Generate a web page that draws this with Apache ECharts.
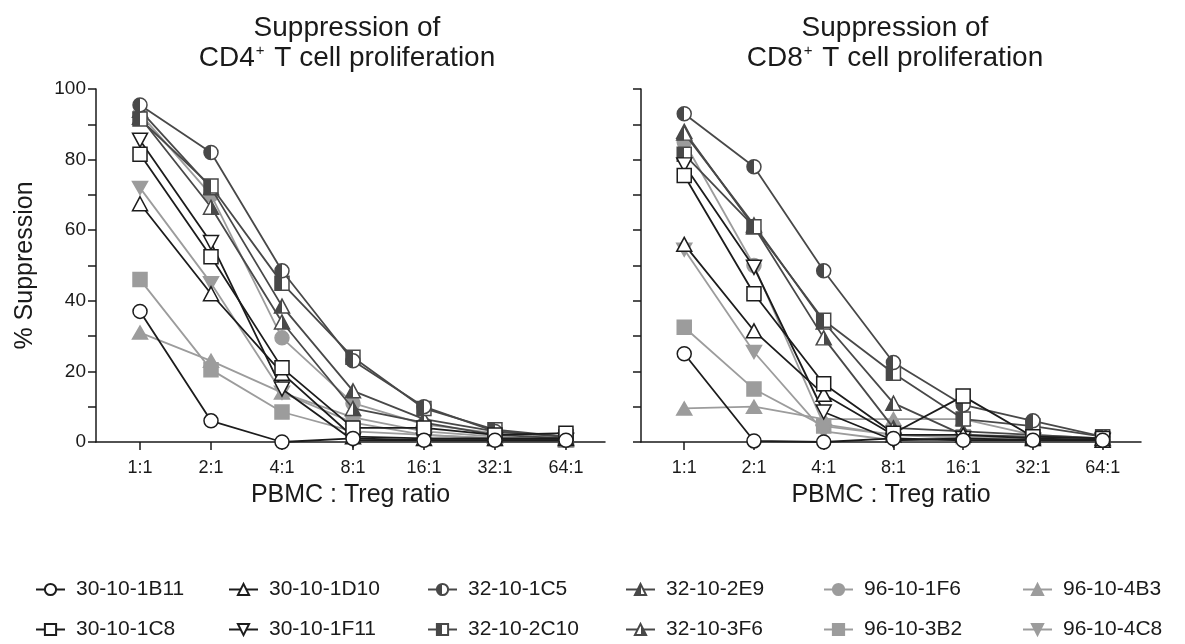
<!DOCTYPE html>
<html>
<head>
<meta charset="utf-8">
<script src="https://cdn.jsdelivr.net/npm/echarts@6/dist/echarts.min.js"></script>
<style>
  html, body { margin: 0; padding: 0; background: #fff; }
  #chart { width: 1185px; height: 644px; }
</style>
</head>
<body>
<div id="chart"></div>
<script>
// PBMC : Treg ratios on the x axis
const ratioLabels = ['1:1', '2:1', '4:1', '8:1', '16:1', '32:1', '64:1'];
const yTicks = [0, 20, 40, 60, 80, 100];

// % suppression of CD4+ T cell proliferation, one array per clone
const cd4_30_10_1B11 = [37, 6, 0, 1, 0.5, 0.5, 0.5];
const cd4_30_10_1C8  = [81.5, 52.5, 21, 4, 4, 2, 2.5];
const cd4_30_10_1D10 = [67.5, 42, 19.5, 1.5, 1, 1, 1];
const cd4_30_10_1F11 = [85.5, 56.5, 15, 0.5, 0.5, 0.5, 0.5];
const cd4_32_10_1C5  = [95.5, 82, 48.5, 23, 10, 3, 1.5];
const cd4_32_10_2C10 = [91.5, 72.5, 45, 24, 9.5, 3.5, 1.5];
const cd4_32_10_2E9  = [94, 72, 38.5, 14.5, 6.5, 3, 1.5];
const cd4_32_10_3F6  = [92, 66.5, 34, 9.5, 5.5, 2, 1];
const cd4_96_10_1F6  = [93, 70, 29.5, 11, 5, 2.5, 1];
const cd4_96_10_3B2  = [46, 20.5, 8.5, 3, 2, 1, 0.5];
const cd4_96_10_4B3  = [31, 23, 14, 7, 3, 1.5, 0.5];
const cd4_96_10_4C8  = [72, 45, 14, 5.5, 2, 1, 0.5];

// % suppression of CD8+ T cell proliferation, one array per clone
const cd8_30_10_1B11 = [25, 0.3, 0, 1, 0.5, 0.5, 0.5];
const cd8_30_10_1C8  = [75.5, 42, 16.5, 2.5, 13, 1.5, 1];
const cd8_30_10_1D10 = [56, 31.5, 13.5, 2, 2, 1, 0.5];
const cd8_30_10_1F11 = [78.5, 49.5, 8.5, 0.5, 1, 0.5, 0.5];
const cd8_32_10_1C5  = [93, 78, 48.5, 22.5, 10.5, 6, 1.5];
const cd8_32_10_2C10 = [81.5, 61, 34.5, 19.5, 6.5, 4.5, 1.5];
const cd8_32_10_2E9  = [87.5, 61.5, 34, 11, 2, 1.5, 1];
const cd8_32_10_3F6  = [88, 61, 29.5, 4, 3, 2, 1];
const cd8_96_10_1F6  = [85, 50, 5, 2, 1, 1, 1];
const cd8_96_10_3B2  = [32.5, 15, 4.5, 2, 1.5, 1, 1];
const cd8_96_10_4B3  = [9.5, 10, 6.5, 6.5, 6.5, 2, 1];
const cd8_96_10_4C8  = [54.5, 25.5, 3, 0.5, 0.5, 0.5, 0.5];

const clones = ['30-10-1B11', '30-10-1C8', '30-10-1D10', '30-10-1F11',
                '32-10-1C5', '32-10-2C10', '32-10-2E9', '32-10-3F6',
                '96-10-1F6', '96-10-3B2', '96-10-4B3', '96-10-4C8'];
const cd4Values = [cd4_30_10_1B11, cd4_30_10_1C8, cd4_30_10_1D10, cd4_30_10_1F11,
                   cd4_32_10_1C5, cd4_32_10_2C10, cd4_32_10_2E9, cd4_32_10_3F6,
                   cd4_96_10_1F6, cd4_96_10_3B2, cd4_96_10_4B3, cd4_96_10_4C8];
const cd8Values = [cd8_30_10_1B11, cd8_30_10_1C8, cd8_30_10_1D10, cd8_30_10_1F11,
                   cd8_32_10_1C5, cd8_32_10_2C10, cd8_32_10_2E9, cd8_32_10_3F6,
                   cd8_96_10_1F6, cd8_96_10_3B2, cd8_96_10_4B3, cd8_96_10_4C8];

const FONT = '"Liberation Sans", Arial, sans-serif';
const INK = '#1a1a1a';
const BLACK = '#1c1c1c';
const DARK = '#484848';
const LIGHT = '#9c9c9c';
const DOWN = 'path://M0,0 L10,0 L5,9 Z';
const UP = 'path://M5,0 L10,9 L0,9 Z';

function half(dir) {
  // two-tone fill: dark on one side, white on the other
  const a = dir === 'left' ? DARK : '#ffffff';
  const b = dir === 'left' ? '#ffffff' : DARK;
  return {
    type: 'linear', x: 0, y: 0, x2: 1, y2: 0,
    colorStops: [
      { offset: 0, color: a }, { offset: 0.5, color: a },
      { offset: 0.5, color: b }, { offset: 1, color: b }
    ]
  };
}

// marker look for each clone (same order as clones)
const looks = [
  { symbol: 'circle', size: 14, line: BLACK, fill: '#ffffff', border: BLACK },
  { symbol: 'rect',   size: 14, line: BLACK, fill: '#ffffff', border: BLACK },
  { symbol: UP,       size: [15, 14], line: BLACK, fill: '#ffffff', border: BLACK },
  { symbol: DOWN,     size: [15, 14], line: BLACK, fill: '#ffffff', border: BLACK },
  { symbol: 'circle', size: 14, line: DARK, fill: half('left'), border: DARK },
  { symbol: 'rect',   size: 14, line: DARK, fill: half('left'), border: DARK },
  { symbol: UP,       size: [15, 14], line: DARK, fill: half('left'), border: DARK },
  { symbol: UP,       size: [15, 14], line: DARK, fill: half('right'), border: DARK },
  { symbol: 'circle', size: 14, line: LIGHT, fill: LIGHT, border: LIGHT },
  { symbol: 'rect',   size: 14, line: LIGHT, fill: LIGHT, border: LIGHT },
  { symbol: UP,       size: [15, 13], line: LIGHT, fill: LIGHT, border: LIGHT },
  { symbol: DOWN,     size: [15, 13], line: LIGHT, fill: LIGHT, border: LIGHT }
];

function buildSeries(values, axisIdx) {
  return clones.map((name, k) => {
    const lk = looks[k];
    return {
      type: 'line',
      name: name,
      xAxisIndex: axisIdx,
      yAxisIndex: axisIdx,
      data: values[k].map((v, i) => [i, v]),
      symbol: lk.symbol,
      symbolSize: lk.size,
      showAllSymbol: true,
      lineStyle: { color: lk.line, width: 1.8 },
      itemStyle: { color: lk.fill, borderColor: lk.border, borderWidth: 1.5 },
      emphasis: { disabled: true },
      z: 2 + (11 - k) * 0.01
    };
  });
}

const axisLineStyle = { color: INK, width: 1.5 };
const axisTick = { show: true, inside: false, length: 8, lineStyle: { color: INK, width: 1.5 } };
const idx = ratioLabels.map((_, i) => i);

function xAxis(gridIndex) {
  return {
    type: 'value', gridIndex: gridIndex,
    min: -0.62, max: 6.55,
    axisLine: { show: true, onZero: false, lineStyle: axisLineStyle },
    axisTick: Object.assign({ customValues: idx }, axisTick),
    axisLabel: {
      customValues: idx,
      formatter: v => ratioLabels[Math.round(v)],
      fontSize: 18, color: INK, fontFamily: FONT, margin: 17
    },
    splitLine: { show: false },
    name: 'PBMC : Treg ratio',
    nameLocation: 'middle', nameGap: 41,
    nameTextStyle: { fontSize: 25, color: INK, fontFamily: FONT }
  };
}

function yAxis(gridIndex, withLabels) {
  return {
    type: 'value', gridIndex: gridIndex,
    min: 0, max: 100, interval: 10,
    axisLine: { show: true, onZero: false, lineStyle: axisLineStyle },
    axisTick: axisTick,
    axisLabel: {
      show: withLabels,
      formatter: v => (yTicks.indexOf(v) >= 0 ? String(v) : ''),
      fontSize: 19, color: INK, fontFamily: FONT, margin: 10
    },
    splitLine: { show: false },
    name: withLabels ? '% Suppression' : '',
    nameLocation: 'middle', nameGap: 58, nameRotate: 90,
    nameTextStyle: { fontSize: 25, color: INK, fontFamily: FONT }
  };
}

const titleStyle = {
  fontSize: 28, fontWeight: 'normal', color: INK, fontFamily: FONT, lineHeight: 30,
  rich: { sup: { fontSize: 15, fontFamily: FONT, color: INK, verticalAlign: 'top', lineHeight: 24, padding: [0, 2, 0, 1] } }
};

// legend: one item per slot, six columns by two rows
const legendTextStarts = [75, 268, 467, 665, 863, 1062];
const legendRowTops = [579, 619];
const legendOrder = [[0, 2, 4, 6, 8, 10], [1, 3, 5, 7, 9, 11]];
const legends = [];
legendOrder.forEach((row, r) => {
  row.forEach((k, c) => {
    legends.push({
      left: legendTextStarts[c] - 40,
      top: legendRowTops[r],
      padding: 0,
      itemWidth: 29, itemHeight: 14,
      selectedMode: false,
      data: [clones[k]],
      textStyle: { fontSize: 21, color: INK, fontFamily: FONT, padding: [0, 0, 0, 6] }
    });
  });
});

const option = {
  animation: false,
  backgroundColor: '#ffffff',
  title: [
    { text: 'Suppression of\nCD4{sup|+} T cell proliferation', left: 342, top: 8, textAlign: 'center', textStyle: titleStyle },
    { text: 'Suppression of\nCD8{sup|+} T cell proliferation', left: 890, top: 8, textAlign: 'center', textStyle: titleStyle }
  ],
  legend: legends,
  grid: [
    { left: 96, top: 89, width: 509, height: 353 },
    { left: 641, top: 89, width: 500, height: 353 }
  ],
  xAxis: [xAxis(0), xAxis(1)],
  yAxis: [yAxis(0, true), yAxis(1, false)],
  series: buildSeries(cd4Values, 0).concat(buildSeries(cd8Values, 1))
};

const chart = echarts.init(document.getElementById('chart'), null, { renderer: 'canvas' });
chart.setOption(option);
</script>
</body>
</html>
